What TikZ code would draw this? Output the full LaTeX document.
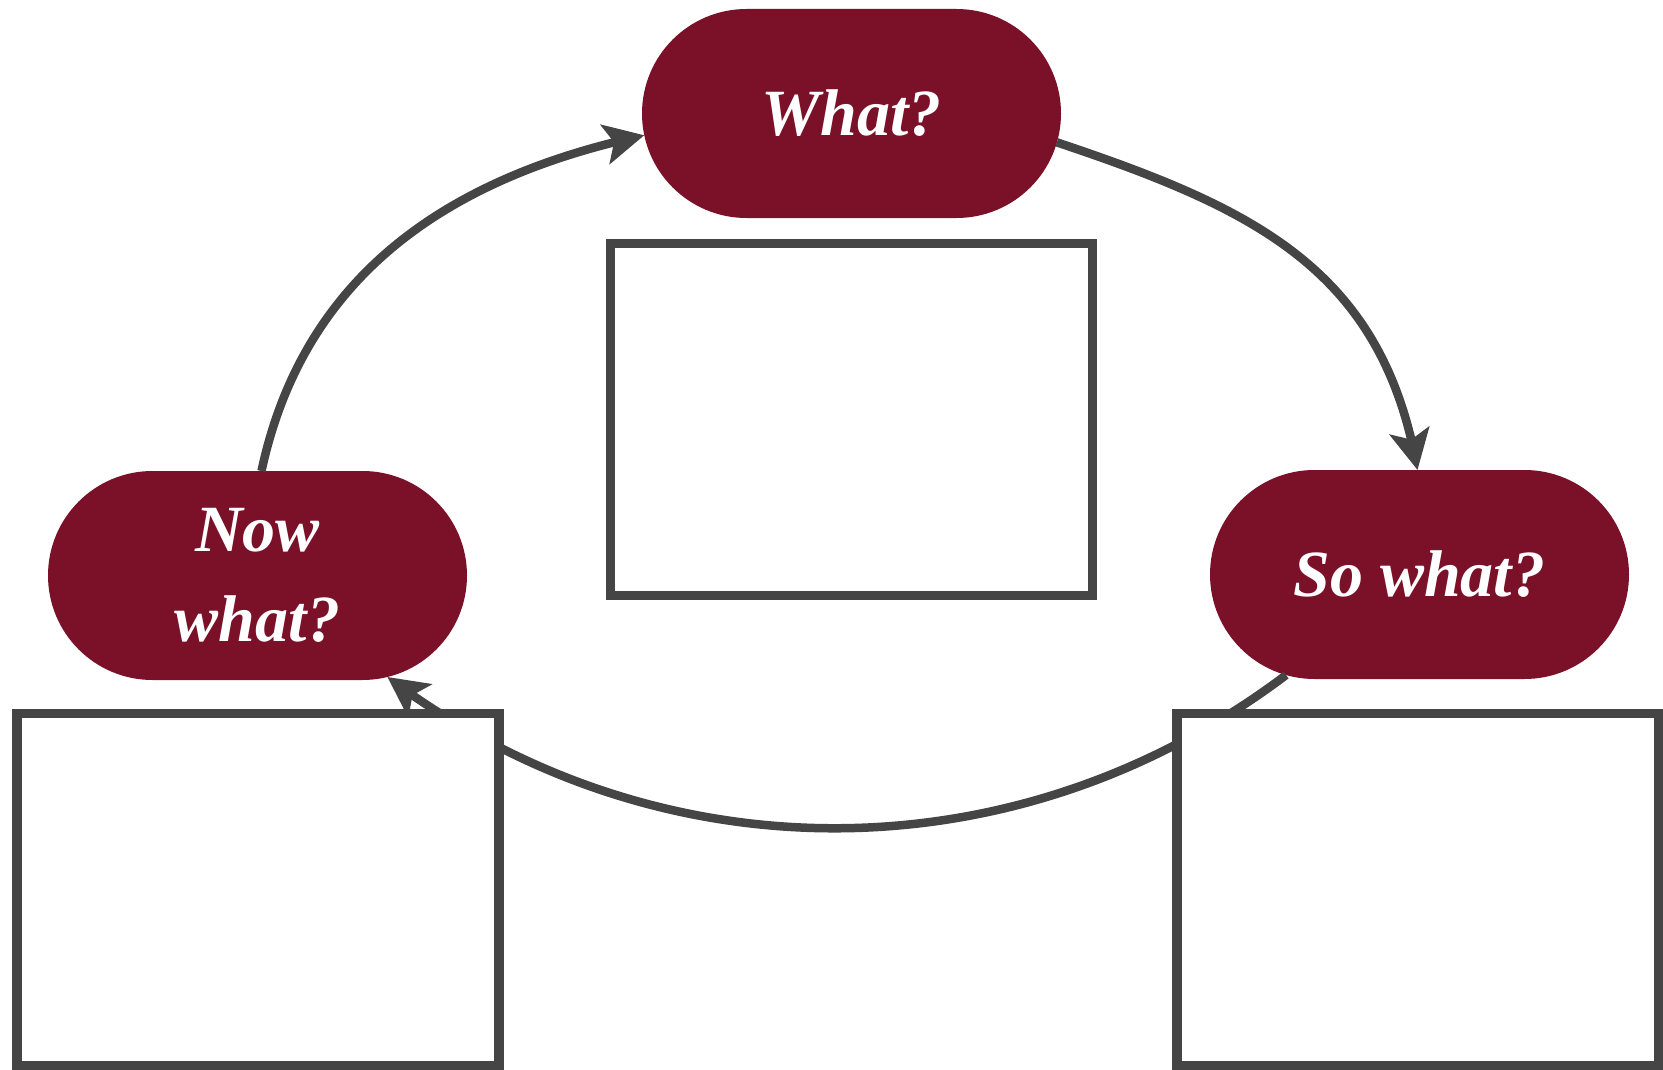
\documentclass[tikz,border=0pt]{standalone}
\usepackage{fontspec}
\newfontfamily\pillfont{Liberation Serif}
\usetikzlibrary{shapes.misc,arrows.meta,bending}
\definecolor{pillC}{RGB}{123,17,40}
\definecolor{lineC}{RGB}{69,69,69}
\begin{document}
\begin{tikzpicture}[x=1pt,y=-1pt,
  pill/.style={rounded rectangle, fill=pillC, minimum width=419pt, minimum height=209pt,
    inner sep=0pt, outer sep=0pt, text=white,
    font=\pillfont\bfseries\itshape\fontsize{66}{90}\selectfont, align=center},
  blank/.style={rectangle, draw=lineC, line width=9.5pt, fill=white,
    minimum width=482pt, minimum height=352pt, inner sep=0pt, outer sep=0pt},
  conn/.style={draw=lineC, line width=8.5pt,
    -{Stealth[length=40pt,width=40pt,inset=9pt]}}]
\fill[white] (0,0) rectangle (1663,1070);
\useasboundingbox (0,0) rectangle (1663,1070);

% pills
\node[pill] (what) at (851.5,113.5) {What?};
\node[pill] (now)  at (257.5,575.5) {Now\\what?};
\node[pill] (so)   at (1419.5,574.5) {So what?};

% connectors
\draw[conn] ([xshift=4pt]now.north) .. controls +(42,-196) and +(-196,42) .. (what.186.7);
\draw[conn] (what.-8.7) .. controls +(197,66) and +(-35,-201) .. ([xshift=-2pt]so.north);
\draw[conn] (so.217.7) .. controls +(-269,203) and +(269,203) .. (now.-38.8);

% blank boxes
\node[blank] (boxc) at (851.5,419.5) {};
\node[blank] (boxl) at (258,889.5) {};
\node[blank] (boxr) at (1418,889.5) {};
\end{tikzpicture}
\end{document}
